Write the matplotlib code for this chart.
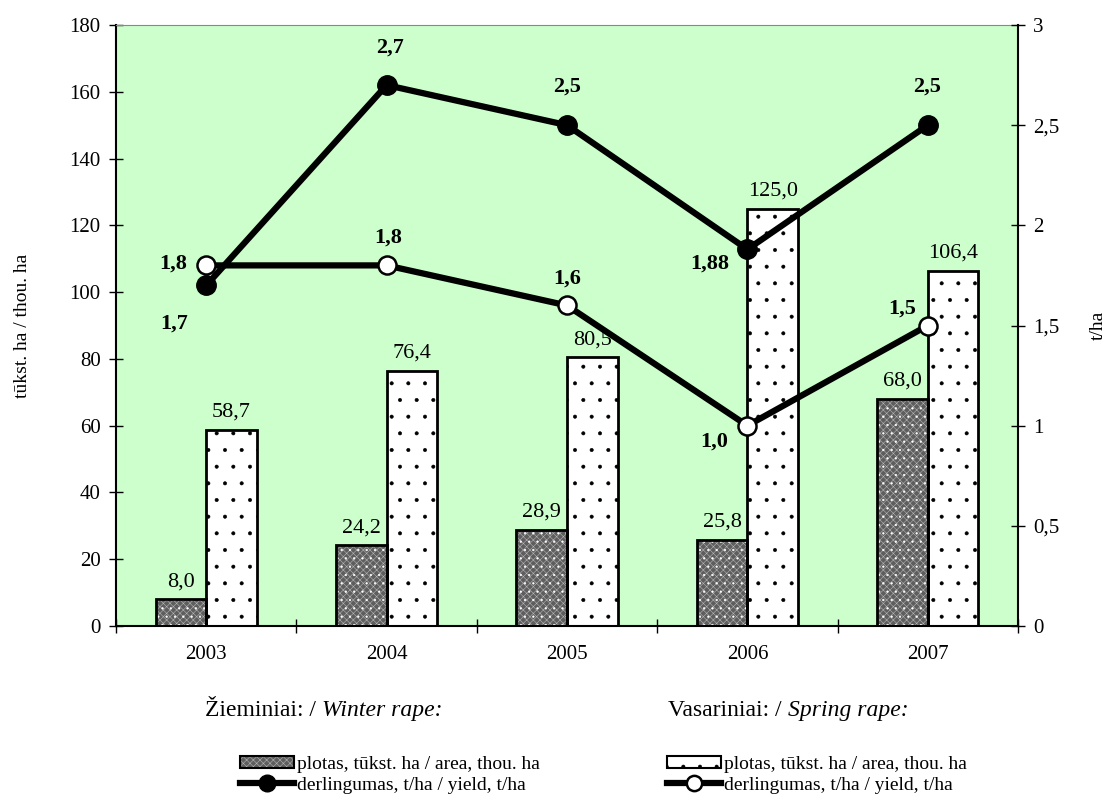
import matplotlib
matplotlib.use('Agg')
import matplotlib.pyplot as plt
import numpy as np
from matplotlib.patches import Patch
from matplotlib.lines import Line2D
from matplotlib.legend_handler import HandlerTuple

plt.rcParams['font.family'] = ['Liberation Serif', 'DejaVu Serif']
plt.rcParams['hatch.linewidth'] = 0.4

years = ['2003', '2004', '2005', '2006', '2007']
winter_area = [8.0, 24.2, 28.9, 25.8, 68.0]
spring_area = [58.7, 76.4, 80.5, 125.0, 106.4]
winter_yield = [1.7, 2.7, 2.5, 1.88, 2.5]
spring_yield = [1.8, 1.8, 1.6, 1.0, 1.5]
winter_yield_txt = ['1,7', '2,7', '2,5', '1,88', '2,5']
spring_yield_txt = ['1,8', '1,8', '1,6', '1,0', '1,5']

# label offsets in pixels (dx, dy) for yield annotations
winter_off = [(-32, -38), (3, 38), (0, 39), (-38, -14), (-1, 39)]
spring_off = [(-33, 2), (2, 28), (0, 27), (-33, -16), (-26, 17)]

fig = plt.figure(figsize=(11.14, 7.96), dpi=100)
ax = fig.add_axes([116/1114, 1-626/796, (1018-116)/1114, (626-25)/796])
ax.set_facecolor('#ccffcc')

x = np.arange(len(years))
w = 0.28

# winter bars: dark crosshatch with white dots, then black outline
ax.bar(x - w/2, winter_area, w, color='#5e5e5e', edgecolor='#b4b4b4', hatch='xxxxx', lw=0, zorder=2)
ax.bar(x - w/2, winter_area, w, color='none', edgecolor='white', hatch='..', lw=0, zorder=2)
ax.bar(x - w/2, winter_area, w, color='none', edgecolor='black', lw=2, zorder=3)
# spring bars: white with sparse black dots
ax.bar(x + w/2, spring_area, w, color='white', edgecolor='black', hatch='.', lw=0, zorder=2)
ax.bar(x + w/2, spring_area, w, color='none', edgecolor='black', lw=2, zorder=3)

for i in range(len(years)):
    ax.annotate(f'{winter_area[i]:.1f}'.replace('.', ','), (x[i] - w/2, winter_area[i]),
                xytext=(0, 8), textcoords='offset pixels', ha='center', va='bottom', fontsize=16)
    ax.annotate(f'{spring_area[i]:.1f}'.replace('.', ','), (x[i] + w/2, spring_area[i]),
                xytext=(0, 8), textcoords='offset pixels', ha='center', va='bottom', fontsize=16)

ax.set_xlim(-0.5, 4.5)
ax.set_ylim(0, 180)
ax.set_yticks(range(0, 181, 20))
ax.set_xticks(x)
ax.set_xticklabels(years)
ax.set_xticks(np.arange(-0.5, 5, 1), minor=True)
ax.tick_params(axis='x', which='major', length=0, pad=14, labelsize=15)
ax.tick_params(axis='x', which='minor', length=10, direction='inout', width=1)
ax.tick_params(axis='y', length=10, direction='inout', width=1, labelsize=15, pad=6)
ax.set_ylabel('tūkst. ha / thou. ha', fontsize=14, labelpad=28)
for s in ['left', 'bottom']:
    ax.spines[s].set_linewidth(1.5)
ax.spines['top'].set_color('#888888')
ax.spines['right'].set_visible(False)

ax2 = ax.twinx()
ax2.set_ylim(0, 3)
ax2.set_yticks(np.arange(0, 3.01, 0.5))
ax2.set_yticklabels(['0', '0,5', '1', '1,5', '2', '2,5', '3'])
ax2.tick_params(axis='y', length=10, direction='inout', width=1, labelsize=15, pad=6)
ax2.set_ylabel('t/ha', fontsize=14, labelpad=22)
ax2.spines['right'].set_linewidth(1.5)
ax2.spines['top'].set_visible(False)
ax2.spines['left'].set_visible(False)
ax2.spines['bottom'].set_visible(False)

ax2.plot(x, winter_yield, color='black', lw=4.5, marker='o', ms=14,
         mfc='black', mec='black', zorder=4)
ax2.plot(x, spring_yield, color='black', lw=4.5, marker='o', ms=13,
         mfc='white', mec='black', mew=1.8, zorder=4)

for i in range(len(years)):
    ax2.annotate(winter_yield_txt[i], (x[i], winter_yield[i]), xytext=winter_off[i],
                 textcoords='offset pixels', ha='center', va='center',
                 fontsize=16, fontweight='bold')
    ax2.annotate(spring_yield_txt[i], (x[i], spring_yield[i]), xytext=spring_off[i],
                 textcoords='offset pixels', ha='center', va='center',
                 fontsize=16, fontweight='bold')

# legend headings: upright part followed by italic part
renderer = fig.canvas.get_renderer()
for hx, head, head_it in [(205, 'Žieminiai: / ', 'Winter rape:'),
                          (668, 'Vasariniai: / ', 'Spring rape:')]:
    t = fig.text(hx/1114, 1-716/796, head, fontsize=17, va='baseline')
    bb = t.get_window_extent(renderer)
    fig.text(bb.x1/1114, 1-716/796, head_it, fontsize=17, va='baseline', style='italic')

w_patch = (Patch(facecolor='#5e5e5e', edgecolor='#b4b4b4', hatch='xxxxx', lw=0),
           Patch(facecolor='none', edgecolor='black', lw=1.5))
s_patch = (Patch(facecolor='white', edgecolor='black', hatch='.', lw=0),
           Patch(facecolor='none', edgecolor='black', lw=1.5))
w_line = Line2D([], [], color='black', lw=4.5, marker='o', ms=12, mfc='black', mec='black')
s_line = Line2D([], [], color='black', lw=4.5, marker='o', ms=11, mfc='white', mec='black', mew=1.8)

leg_kw = dict(fontsize=14, frameon=False, handlelength=2.8, handleheight=0.6,
              handletextpad=0.15, labelspacing=0.2, borderpad=0, borderaxespad=0,
              handler_map={tuple: HandlerTuple(ndivide=1, pad=0)})
fig.legend([w_patch, w_line], ['plotas, tūkst. ha / area, thou. ha', 'derlingumas, t/ha / yield, t/ha'],
           loc='upper left', bbox_to_anchor=(240/1114, 1-756/796), **leg_kw)
fig.legend([s_patch, s_line], ['plotas, tūkst. ha / area, thou. ha', 'derlingumas, t/ha / yield, t/ha'],
           loc='upper left', bbox_to_anchor=(667/1114, 1-756/796), **leg_kw)

fig.savefig('out.png', dpi=100)
